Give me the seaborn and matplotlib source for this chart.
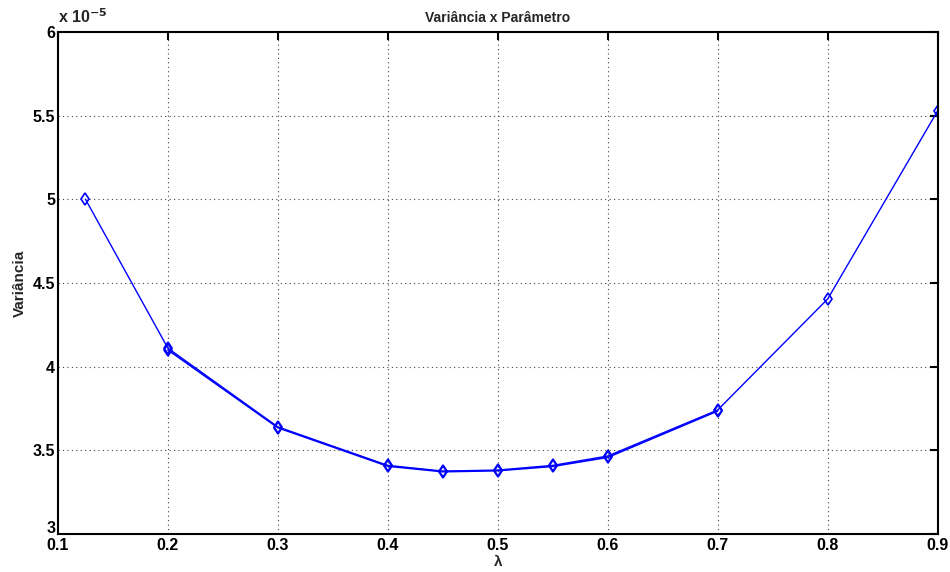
import numpy as np
import pandas as pd
import matplotlib
matplotlib.use('Agg')
import matplotlib.pyplot as plt
import matplotlib.transforms as mtrans
import seaborn as sns

# lambda values and variance (units of 1e-5)
lam = [0.125, 0.2, 0.3, 0.4, 0.45, 0.5, 0.55, 0.6, 0.7, 0.8, 0.9]
var_a = [5.00, 4.11, 3.64, 3.41, 3.376, 3.382, 3.41, 3.466, 3.741, 4.404, 5.528]
# second run, nearly overlapping the first in the middle
lam_b = [0.2, 0.3, 0.4, 0.45, 0.5, 0.55, 0.6, 0.7]
var_b = [4.10, 3.635, 3.405, 3.372, 3.378, 3.404, 3.458, 3.735]

xticks = [0.1, 0.2, 0.3, 0.4, 0.5, 0.6, 0.7, 0.8, 0.9]
yticks = [3, 3.5, 4, 4.5, 5, 5.5, 6]

sns.set_style('white')
plt.rcParams['font.family'] = ['Liberation Sans', 'DejaVu Sans']
plt.rcParams['font.weight'] = 'bold'

fig = plt.figure(figsize=(9.5, 5.72), dpi=100)
ax = fig.add_axes([0.061, 0.0664, 0.926, 0.878])

df_a = pd.DataFrame({'lam': lam, 'var': var_a})
df_b = pd.DataFrame({'lam': lam_b, 'var': var_b})
sns.lineplot(data=df_b, x='lam', y='var', ax=ax, color='#0000ff', lw=1.2,
             marker='d', markersize=6, markerfacecolor='none',
             markeredgecolor='#0000ff', markeredgewidth=1.2)
sns.lineplot(data=df_a, x='lam', y='var', ax=ax, color='#0000ff', lw=1.0,
             marker='d', markersize=6, markerfacecolor='none',
             markeredgecolor='#0000ff', markeredgewidth=1.2)

ax.set_xlim(0.1, 0.9)
ax.set_ylim(3, 6)
ax.set_xticks(xticks)
ax.set_yticks(yticks)
ax.set_xticklabels([f'{t:g}' for t in xticks], fontsize=11.5, fontweight='bold')
ax.set_yticklabels([f'{t:g}' for t in yticks], fontsize=11.5, fontweight='bold')
ax.tick_params(axis='both', direction='in', length=6, width=1.5, top=True,
               right=True, colors='black')
ax.tick_params(axis='x', pad=3)
ax.tick_params(axis='y', pad=2)
# lift the bottom y label so it sits above the "0.1"
lab0 = ax.get_yticklabels()[0]
lab0.set_transform(lab0.get_transform() +
                   mtrans.ScaledTranslation(0, 5 / 72, fig.dpi_scale_trans))

ax.grid(True, linestyle=(0, (1, 3)), color='#444444', linewidth=0.8)
for s in ax.spines.values():
    s.set_color('black')
    s.set_linewidth(1.5)

ax.set_title('Variância x Parâmetro', fontsize=10, fontweight='bold', pad=7)
ax.set_xlabel('λ', fontsize=11, fontweight='bold', labelpad=1)
ax.set_ylabel('Variância', fontsize=11, fontweight='bold', labelpad=4)
ax.text(0.0, 1.012, r'x 10$^{-5}$', transform=ax.transAxes, fontsize=11.5,
        fontweight='bold', ha='left', va='bottom')

fig.savefig('out.png', dpi=100)
